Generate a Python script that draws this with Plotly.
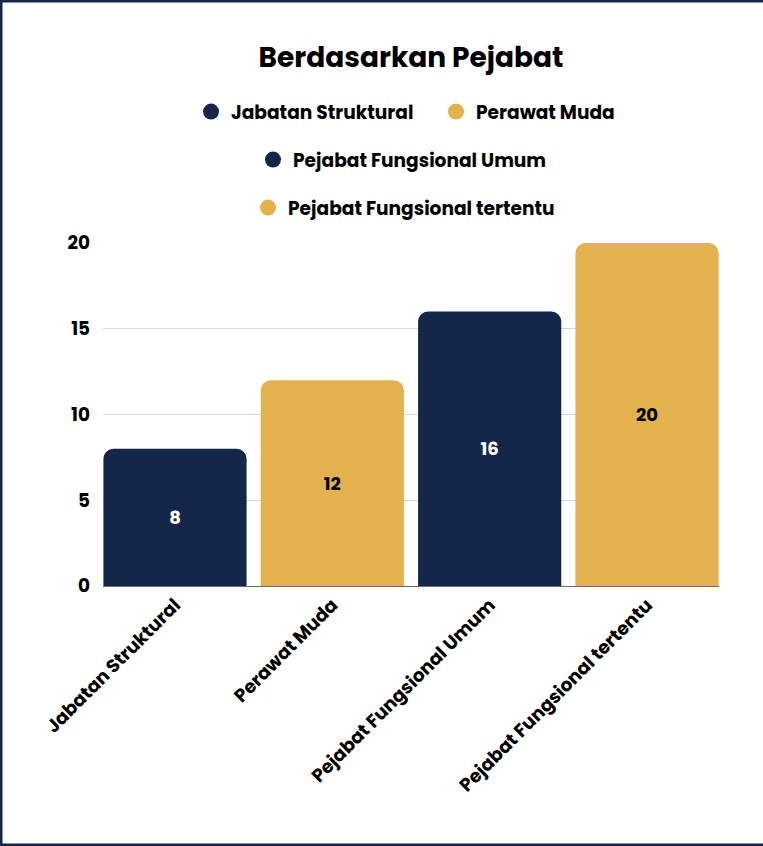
import plotly.graph_objects as go

categories = [
    "Jabatan Struktural",
    "Perawat Muda",
    "Pejabat Fungsional Umum",
    "Pejabat Fungsional tertentu",
]
values = [8, 12, 16, 20]
y_ticks = [0, 5, 10, 15, 20]

NAVY = "#14274a"
GOLD = "#e3b14d"
bar_colors = [NAVY, GOLD, NAVY, GOLD]
text_colors = ["#ffffff", "#000000", "#ffffff", "#000000"]
legend_groups = ["legend", "legend", "legend2", "legend3"]

FONT = "Poppins, Inter, sans-serif"

fig = go.Figure()
for name, value, color, tcolor in zip(categories, values, bar_colors, text_colors):
    fig.add_trace(
        go.Bar(
            x=[name], y=[value], name=name, showlegend=False,
            marker={"color": color, "cornerradius": 10, "line": {"width": 0}},
            text=[value], textposition="inside", insidetextanchor="middle",
            textangle=0,
            textfont={"color": tcolor, "size": 18, "family": FONT, "weight": "bold"},
            hovertemplate="%{x}: %{y}<extra></extra>",
        )
    )

# legend entries as circles, split over three centred rows
for name, color, group in zip(categories, bar_colors, legend_groups):
    fig.add_trace(
        go.Scatter(
            x=[None], y=[None], mode="markers", name=name, legend=group,
            marker={"color": color, "size": 18, "symbol": "circle"},
        )
    )

legend_font = {"family": FONT, "size": 18.6, "color": "#000000", "weight": "bold"}
legend_common = {
    "orientation": "h", "yanchor": "middle", "xanchor": "left",
    "font": legend_font, "bgcolor": "rgba(0,0,0,0)", "itemwidth": 30,
}
tick_font = {"family": FONT, "size": 18.4, "color": "#000000", "weight": "bold"}

fig.update_layout(
    width=763,
    height=846,
    paper_bgcolor="#ffffff",
    plot_bgcolor="#ffffff",
    barmode="overlay",
    bargap=0.09,
    margin={"l": 103, "r": 44, "t": 243, "b": 260, "pad": 0},
    title={
        "text": "Berdasarkan Pejabat", "x": 0.5, "xref": "paper",
        "y": 1 - 57 / 846, "yanchor": "middle",
        "font": {"family": FONT, "size": 28, "color": "#000000", "weight": "bold"},
    },
    legend={**legend_common, "y": 1.382, "x": (191 - 103) / 616, "entrywidth": 200},
    legend2={**legend_common, "y": 1.242, "x": (253 - 103) / 616},
    legend3={**legend_common, "y": 1.102, "x": (248 - 103) / 616},
    font={"family": FONT},
    shapes=[
        {
            "type": "rect", "xref": "paper", "yref": "paper",
            "x0": -103 / 616, "x1": 1.2, "y0": -260 / 343, "y1": 1 + 243 / 343,
            "line": {"color": NAVY, "width": 5}, "fillcolor": "rgba(0,0,0,0)",
            "layer": "above",
        }
    ],
)
fig.update_xaxes(
    range=[-0.4576, 3.4576], tickangle=-45, showgrid=False,
    showline=True, linecolor="#6b6b6b", linewidth=1,
    tickfont=tick_font,
)
fig.update_yaxes(
    range=[0, 20], tickvals=y_ticks, showgrid=True, gridcolor="#d6d6d6",
    gridwidth=1, zeroline=False, ticks="", ticklabelstandoff=12,
    tickfont=tick_font,
)

fig.write_html(
    "out.html",
    config={"displayModeBar": False},
    post_script="document.body.style.margin='0';",
)
